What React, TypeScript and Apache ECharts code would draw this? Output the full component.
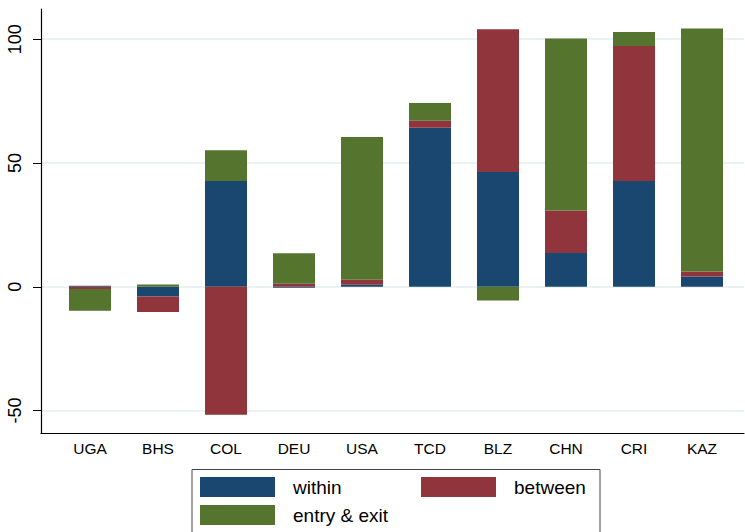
import React, { useEffect, useRef } from "react";
import * as echarts from "echarts";

// Country codes along the category axis
const countries = ["UGA", "BHS", "COL", "DEU", "USA", "TCD", "BLZ", "CHN", "CRI", "KAZ"];

// Decomposition components (stacked; positives above zero, negatives below)
const within = [0.4, -3.9, 42.7, -0.4, 0.8, 64.2, 46.4, 13.7, 42.7, 4.2];
const between = [-0.9, -6.3, -51.7, 1.2, 2.0, 2.9, 57.6, 17.1, 54.6, 2.0];
const entryExit = [-8.8, 0.9, 12.5, 12.4, 57.7, 7.1, -5.5, 69.5, 5.6, 98.1];

// Value-axis ticks
const yTicks = [-50, 0, 50, 100];
const yMin = -59.25;
const yMax = 112.2;

const FONT = "'Liberation Sans', Arial, Helvetica, sans-serif";
const NAVY = "#1a476f";
const MAROON = "#90353b";
const GREEN = "#55752f";

export default function App() {
  const ref = useRef<HTMLDivElement>(null);

  useEffect(() => {
    if (!ref.current) return;
    const chart = echarts.init(ref.current, undefined, { renderer: "svg" });

    const legendBase = {
      orient: "horizontal" as const,
      padding: 0,
      itemWidth: 75,
      itemHeight: 20,
      icon: "rect",
      selectedMode: false,
      textStyle: {
        fontFamily: FONT,
        fontSize: 19,
        color: "#000",
        padding: [0, 0, 0, 13],
      },
    };

    const series = [
      { name: "within", data: within, color: NAVY },
      { name: "between", data: between, color: MAROON },
      { name: "entry & exit", data: entryExit, color: GREEN },
    ].map((s) => ({
      name: s.name,
      type: "bar" as const,
      stack: "total",
      xAxisIndex: 1,
      yAxisIndex: 1,
      barWidth: 42,
      data: s.data,
      itemStyle: { color: s.color },
    }));

    chart.setOption({
      animation: false,
      backgroundColor: "#fff",
      textStyle: { fontFamily: FONT },
      grid: [
        { left: 41, right: 1, top: 9, bottom: 98.5 },
        { left: 56, right: 9, top: 9, bottom: 98.5 },
      ],
      xAxis: [
        {
          gridIndex: 0,
          type: "value",
          min: 0,
          max: 1,
          axisLine: {
            show: true,
            onZero: false,
            lineStyle: { color: "#000", width: 1.2 },
          },
          axisTick: { show: false },
          axisLabel: { show: false },
          splitLine: { show: false },
        },
        {
          gridIndex: 1,
          type: "category",
          data: countries,
          axisLine: { show: false, onZero: false },
          axisTick: { show: false },
          axisLabel: {
            color: "#000",
            fontFamily: FONT,
            fontSize: 15.5,
            margin: 7,
          },
        },
      ],
      yAxis: [
        {
          gridIndex: 0,
          type: "value",
          min: yMin,
          max: yMax,
          axisLine: {
            show: true,
            onZero: false,
            lineStyle: { color: "#000", width: 1.2 },
          },
          axisTick: {
            show: true,
            length: 8,
            customValues: yTicks,
            lineStyle: { color: "#000", width: 1 },
          },
          axisLabel: {
            customValues: yTicks,
            rotate: 90,
            margin: 17,
            color: "#000",
            fontFamily: FONT,
            fontSize: 18,
          },
          splitLine: {
            show: true,
            lineStyle: { color: "#e4eef0", width: 1.5 },
          },
        },
        {
          gridIndex: 1,
          type: "value",
          min: yMin,
          max: yMax,
          axisLine: { show: false, onZero: false },
          axisTick: { show: false },
          axisLabel: { show: false },
          splitLine: { show: false },
        },
      ],
      legend: [
        { ...legendBase, data: ["within"], left: 200, top: 477 },
        { ...legendBase, data: ["between"], left: 421, top: 477 },
        { ...legendBase, data: ["entry & exit"], left: 200, top: 505 },
      ],
      graphic: [
        {
          type: "rect",
          z: -1,
          shape: { x: 192, y: 469.5, width: 408, height: 80 },
          style: { fill: "#fff", stroke: "#444", lineWidth: 1 },
        },
      ],
      series,
    });

    return () => chart.dispose();
  }, []);

  return (
    <div
      ref={ref}
      style={{ position: "fixed", left: 0, top: 0, width: 745, height: 532 }}
    />
  );
}
